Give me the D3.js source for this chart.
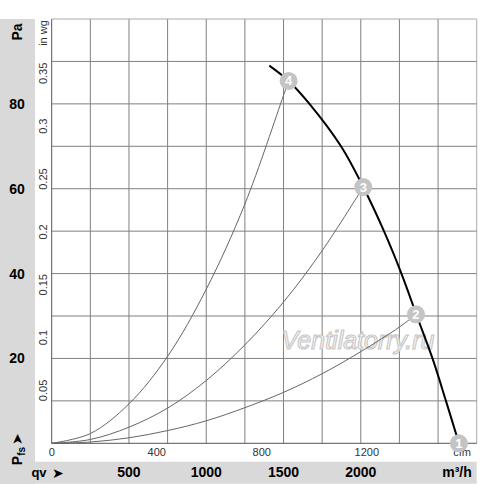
<!DOCTYPE html>
<html>
<head>
<meta charset="utf-8">
<script src="https://cdn.jsdelivr.net/npm/d3@7"></script>
<style>
  body { margin: 0; background: #fff; }
  svg text { font-family: "Liberation Sans", Arial, sans-serif; }
</style>
</head>
<body>
<div id="chart"></div>
<script>
// values (m3/h, Pa)
var fanQ = [1408, 1533, 1668, 1872, 2016, 2150, 2263, 2363, 2464, 2551, 2635];
var fanPa = [89.0, 85.4, 80.0, 70.0, 60.4, 50.0, 40.0, 30.0, 20.0, 10.0, 0];

var sys4Q = [0, 250, 500, 750, 1000, 1250, 1500, 1533];
var sys4Pa = [0, 2.3, 9.3, 20.5, 36.3, 56.4, 82.0, 85.4];
var sys3Q = [0, 250, 500, 750, 1000, 1250, 1500, 1750, 2016];
var sys3Pa = [0, 0.9, 3.8, 8.3, 14.8, 23.2, 33.3, 45.4, 60.4];
var sys2Q = [0, 250, 500, 750, 1000, 1250, 1500, 1750, 2000, 2250, 2357];
var sys2Pa = [0, 0.3, 1.3, 3.0, 5.3, 8.4, 12.0, 16.4, 21.6, 27.4, 30.4];

var pointQ = [2635, 2357, 2016, 1533];
var pointPa = [0, 30.4, 60.4, 85.4];
var pointLabels = ['1', '2', '3', '4'];

var m3hTicks = [500, 1000, 1500, 2000];
var paTicks = [20, 40, 60, 80];
var cfmTicks = [0, 400, 800, 1200];
var inwgTicks = [0.05, 0.1, 0.15, 0.2, 0.25, 0.3, 0.35];

var qMax = 2750, paMax = 100;
var gridQ = d3.range(0, qMax + 1, 250);
var gridPa = d3.range(0, paMax + 1, 10);

var W = 500, H = 484;
var pLeft = 51.7, pRight = 476.7, pTop = 19, pBottom = 443.3;

var svg = d3.select('#chart').append('svg')
	.attr('width', W)
	.attr('height', H);

var x = d3.scaleLinear().domain([0, qMax]).range([pLeft, pRight]);
var y = d3.scaleLinear().domain([0, paMax]).range([pBottom, pTop]);
var xCfm = d3.scaleLinear().domain([0, qMax * 0.5886]).range([pLeft, pRight]);
var yInwg = d3.scaleLinear().domain([0, paMax / 249.09]).range([pBottom, pTop]);

// gray bands
svg.append('rect').attr('x', 0).attr('y', pTop).attr('width', 35).attr('height', H - pTop).attr('fill', '#d9d9d9');
svg.append('rect').attr('x', 0).attr('y', 461.7).attr('width', pRight).attr('height', 22).attr('fill', '#d9d9d9');

// grid
svg.append('g').selectAll('line').data(gridQ).enter().append('line')
	.attr('x1', function (d) { return x(d); })
	.attr('x2', function (d) { return x(d); })
	.attr('y1', pTop).attr('y2', pBottom)
	.attr('stroke', function (d) { return d === qMax ? '#aaa' : (d === 0 ? '#555' : '#808080'); })
	.attr('stroke-width', 1);

svg.append('g').selectAll('line').data(gridPa).enter().append('line')
	.attr('y1', function (d) { return y(d); })
	.attr('y2', function (d) { return y(d); })
	.attr('x1', pLeft).attr('x2', pRight)
	.attr('stroke', function (d) { return d === paMax ? '#aaa' : (d === 0 ? '#555' : '#808080'); })
	.attr('stroke-width', 1);

// cfm labels
svg.append('g').selectAll('text').data(cfmTicks).enter().append('text')
	.attr('x', function (d) { return xCfm(d); })
	.attr('y', 456)
	.attr('text-anchor', 'middle')
	.attr('font-size', 11)
	.attr('fill', '#333')
	.text(function (d) { return d; });
svg.append('text').attr('x', 462).attr('y', 456).attr('text-anchor', 'middle')
	.attr('font-size', 11).attr('fill', '#333').text('cfm');

// in wg labels
svg.append('g').selectAll('text').data(inwgTicks).enter().append('text')
	.attr('transform', function (d) { return 'translate(47,' + yInwg(d) + ') rotate(-90)'; })
	.attr('text-anchor', 'middle')
	.attr('font-size', 11)
	.attr('fill', '#333')
	.text(function (d) { return d; });
svg.append('text').attr('transform', 'translate(47,33) rotate(-90)').attr('text-anchor', 'middle')
	.attr('font-size', 11).attr('fill', '#333').text('in wg');

// Pa labels
svg.append('g').selectAll('text').data(paTicks).enter().append('text')
	.attr('x', 17)
	.attr('y', function (d) { return y(d) + 5; })
	.attr('text-anchor', 'middle')
	.attr('font-size', 14)
	.attr('font-weight', 'bold')
	.text(function (d) { return d; });
svg.append('text').attr('transform', 'translate(22,32) rotate(-90)').attr('text-anchor', 'middle')
	.attr('font-size', 14).attr('font-weight', 'bold').text('Pa');

// m3/h labels
svg.append('g').selectAll('text').data(m3hTicks).enter().append('text')
	.attr('x', function (d) { return x(d); })
	.attr('y', 477)
	.attr('text-anchor', 'middle')
	.attr('font-size', 14)
	.attr('font-weight', 'bold')
	.text(function (d) { return d; });
svg.append('text').attr('x', 457).attr('y', 477).attr('text-anchor', 'middle')
	.attr('font-size', 14).attr('font-weight', 'bold').text('m³/h');

// Pfs and qv
var pfs = svg.append('text').attr('transform', 'translate(22,456) rotate(-90)').attr('text-anchor', 'middle')
	.attr('font-size', 14).attr('font-weight', 'bold');
pfs.append('tspan').text('P');
pfs.append('tspan').attr('font-size', 10).attr('dy', 3).text('fs');
svg.append('text').attr('transform', 'translate(22,439) rotate(-90)').attr('text-anchor', 'middle')
	.attr('font-size', 14).text('➤');
svg.append('text').attr('x', 39).attr('y', 477).attr('text-anchor', 'middle')
	.attr('font-size', 13).attr('font-weight', 'bold').text('qv');
svg.append('text').attr('x', 58).attr('y', 478).attr('text-anchor', 'middle')
	.attr('font-size', 14).text('➤');

// watermark
svg.append('text').attr('x', 358).attr('y', 349).attr('text-anchor', 'middle')
	.attr('font-size', 25).attr('font-style', 'italic')
	.attr('fill', '#fff').attr('stroke', '#c8c8c8').attr('stroke-width', 1.2)
	.text('Ventilatorry.ru');

// curves
var line = d3.line()
	.x(function (d) { return x(d[0]); })
	.y(function (d) { return y(d[1]); })
	.curve(d3.curveCatmullRom.alpha(0.5));

var systems = [[sys2Q, sys2Pa], [sys3Q, sys3Pa], [sys4Q, sys4Pa]];
svg.append('g').selectAll('path').data(systems).enter().append('path')
	.attr('d', function (s) { return line(d3.zip(s[0], s[1])); })
	.attr('fill', 'none')
	.attr('stroke', '#666')
	.attr('stroke-width', 1);

svg.append('path')
	.attr('d', line(d3.zip(fanQ, fanPa)))
	.attr('fill', 'none')
	.attr('stroke', '#000')
	.attr('stroke-width', 2);

// operating points
var pts = svg.append('g').selectAll('g').data(d3.range(pointQ.length)).enter().append('g')
	.attr('transform', function (i) { return 'translate(' + x(pointQ[i]) + ',' + y(pointPa[i]) + ')'; });
pts.append('circle').attr('r', 9).attr('fill', '#c4c4c4');
pts.append('text').attr('y', 4.5).attr('text-anchor', 'middle')
	.attr('font-size', 13).attr('font-weight', 'bold').attr('fill', '#fff')
	.text(function (i) { return pointLabels[i]; });
</script>
</body>
</html>
